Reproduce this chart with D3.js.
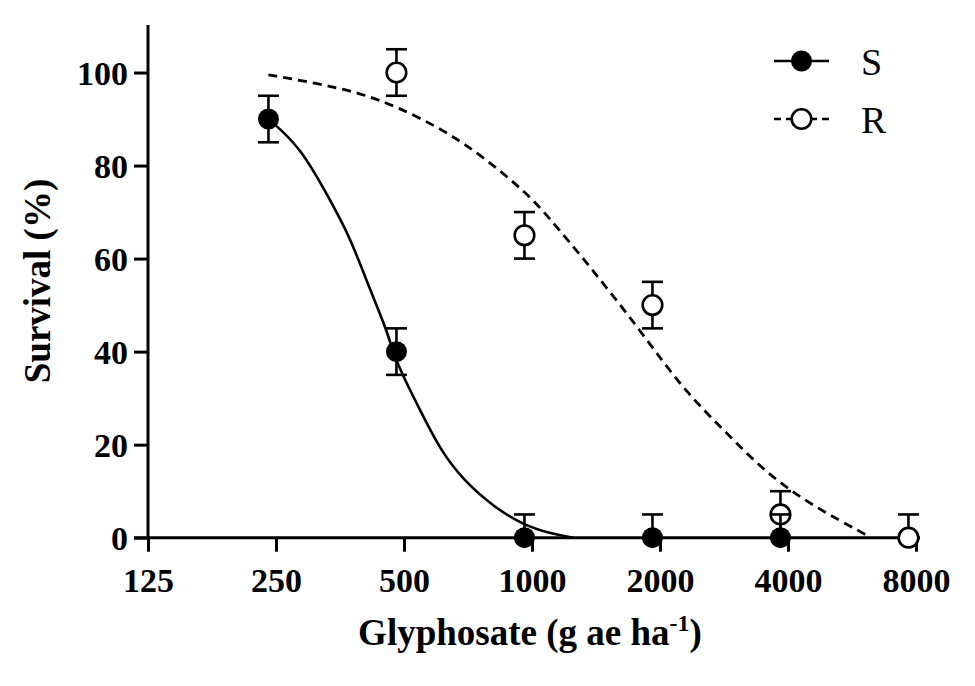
<!DOCTYPE html>
<html>
<head>
<meta charset="utf-8">
<script src="https://cdn.jsdelivr.net/npm/d3@7"></script>
<style>
  html, body { margin: 0; padding: 0; background: #fff; }
  svg { display: block; }
  text { font-family: "Liberation Serif", "Times New Roman", serif; fill: #000; }
</style>
</head>
<body>
<svg id="chart" width="975" height="686"></svg>
<script>
// ---- data ----
const xTicks = [125, 250, 500, 1000, 2000, 4000, 8000];
const yTicks = [0, 20, 40, 60, 80, 100];

// Susceptible (S) observed survival
const sDose = [240, 480, 960, 1920, 3840];
const sVal  = [90, 40, 0, 0, 0];
const sLo   = [85, 35, 0, 0, 0];
const sHi   = [95, 45, 5, 5, 5];

// Resistant (R) observed survival
const rDose = [480, 960, 1920, 3840, 7680];
const rVal  = [100, 65, 50, 5, 0];
const rLo   = [95, 60, 45, 0, 0];
const rHi   = [105, 70, 55, 10, 5];

// fitted curves
const sCurveDose = [240, 285, 335, 373, 416, 455, 472, 498, 545, 608, 689, 811, 954, 1103, 1250];
const sCurveVal  = [90, 84.1, 72.6, 64.7, 53.3, 44.7, 39.7, 34.6, 27.5, 18.9, 12.4, 6.7, 2.7, 0.9, 0];
const rCurveDose = [240, 312, 394, 480, 619, 768, 971, 1083, 1369, 1793, 2269, 2870, 3563, 4588, 6127, 6240];
const rCurveVal  = [99.5, 97.7, 95.6, 92.7, 87.7, 81.9, 74.1, 69.4, 58.3, 44.7, 31.8, 22.5, 13.8, 6.7, 0.6, 0];

const legendLabels = ["S", "R"];

// ---- layout ----
const svg = d3.select("#chart");
const x = d3.scaleLog().base(2).domain([125, 8000]).range([148, 916]);
const y = d3.scaleLinear().domain([0, 110]).range([537.7, 26]);

const tickFont = "bold 34px 'Liberation Serif', 'Times New Roman', serif";

// x axis
const xAxis = svg.append("g").attr("transform", `translate(0,${y(0)})`)
  .call(d3.axisBottom(x).tickValues(xTicks).tickFormat(d3.format("d")).tickSize(14).tickSizeOuter(0).tickPadding(8));
xAxis.select(".domain").remove();
xAxis.append("line").attr("x1", 134).attr("x2", 920).attr("y1", 0).attr("y2", 0)
  .attr("stroke", "#000").attr("stroke-width", 3);
xAxis.selectAll(".tick line").attr("stroke", "#000").attr("stroke-width", 3);
xAxis.selectAll(".tick text").style("font", tickFont).attr("fill", "#000")
  .attr("dy", null).attr("y", 54);

// y axis
const yAxis = svg.append("g").attr("transform", `translate(${x(125)},0)`)
  .call(d3.axisLeft(y).tickValues(yTicks).tickSize(14).tickSizeOuter(0).tickPadding(6));
yAxis.select(".domain").remove();
yAxis.append("line").attr("x1", 0).attr("x2", 0).attr("y1", y(0) + 1.5).attr("y2", 25)
  .attr("stroke", "#000").attr("stroke-width", 3);
yAxis.selectAll(".tick line").attr("stroke", "#000").attr("stroke-width", 3);
yAxis.selectAll(".tick text").style("font", tickFont).attr("fill", "#000")
  .attr("x", -20).attr("dy", "0.34em");

// axis titles
const titleFont = "bold 37px 'Liberation Serif', 'Times New Roman', serif";
const xt = svg.append("text").attr("x", 530).attr("y", 645).attr("text-anchor", "middle").style("font", titleFont);
xt.append("tspan").text("Glyphosate (g ae ha");
xt.append("tspan").text("-1").style("font-size", "24px").attr("dy", -14);
xt.append("tspan").text(")").attr("dy", 14);

svg.append("text").attr("transform", "translate(50,281) rotate(-90)")
  .attr("text-anchor", "middle").style("font", titleFont).text("Survival (%)");

// curves
const line = d3.line().x(d => x(d[0])).y(d => y(d[1])).curve(d3.curveBasis);
svg.append("path").datum(sCurveDose.map((d, i) => [d, sCurveVal[i]]))
  .attr("d", line).attr("fill", "none").attr("stroke", "#000").attr("stroke-width", 2.6);
svg.append("path").datum(rCurveDose.map((d, i) => [d, rCurveVal[i]]))
  .attr("d", line).attr("fill", "none").attr("stroke", "#000").attr("stroke-width", 2.8)
  .attr("stroke-dasharray", "9,6");

// error bars + points
function drawSeries(dose, val, lo, hi, filled) {
  const g = svg.append("g");
  dose.forEach((d, i) => {
    const cx = x(d);
    g.append("line").attr("x1", cx).attr("x2", cx).attr("y1", y(lo[i])).attr("y2", y(hi[i]))
      .attr("stroke", "#000").attr("stroke-width", 2.6);
    g.append("line").attr("x1", cx - 10.5).attr("x2", cx + 10.5).attr("y1", y(hi[i])).attr("y2", y(hi[i]))
      .attr("stroke", "#000").attr("stroke-width", 2.6);
    if (lo[i] > 0) {
      g.append("line").attr("x1", cx - 10.5).attr("x2", cx + 10.5).attr("y1", y(lo[i])).attr("y2", y(lo[i]))
        .attr("stroke", "#000").attr("stroke-width", 2.6);
    }
  });
  g.selectAll("circle").data(dose).join("circle")
    .attr("cx", d => x(d)).attr("cy", (d, i) => y(val[i]))
    .attr("r", filled ? 10.5 : 9.8)
    .attr("fill", filled ? "#000" : "#fff")
    .attr("stroke", "#000").attr("stroke-width", filled ? 0 : 2.6);
}
drawSeries(rDose, rVal, rLo, rHi, false);
drawSeries(sDose, sVal, sLo, sHi, true);

// legend
const leg = svg.append("g");
const legRows = [61, 119];
legendLabels.forEach((lab, i) => {
  const yy = legRows[i];
  leg.append("line").attr("x1", 774).attr("x2", 829).attr("y1", yy).attr("y2", yy)
    .attr("stroke", "#000").attr("stroke-width", 2.6)
    .attr("stroke-dasharray", i === 1 ? "7,5" : null);
  leg.append("circle").attr("cx", 801.5).attr("cy", yy).attr("r", i === 0 ? 10.5 : 9.8)
    .attr("fill", i === 0 ? "#000" : "#fff").attr("stroke", "#000").attr("stroke-width", i === 0 ? 0 : 2.6);
  leg.append("text").attr("x", 861).attr("y", yy + 14).style("font", "38px 'Liberation Serif', 'Times New Roman', serif")
    .text(lab);
});
</script>
</body>
</html>
